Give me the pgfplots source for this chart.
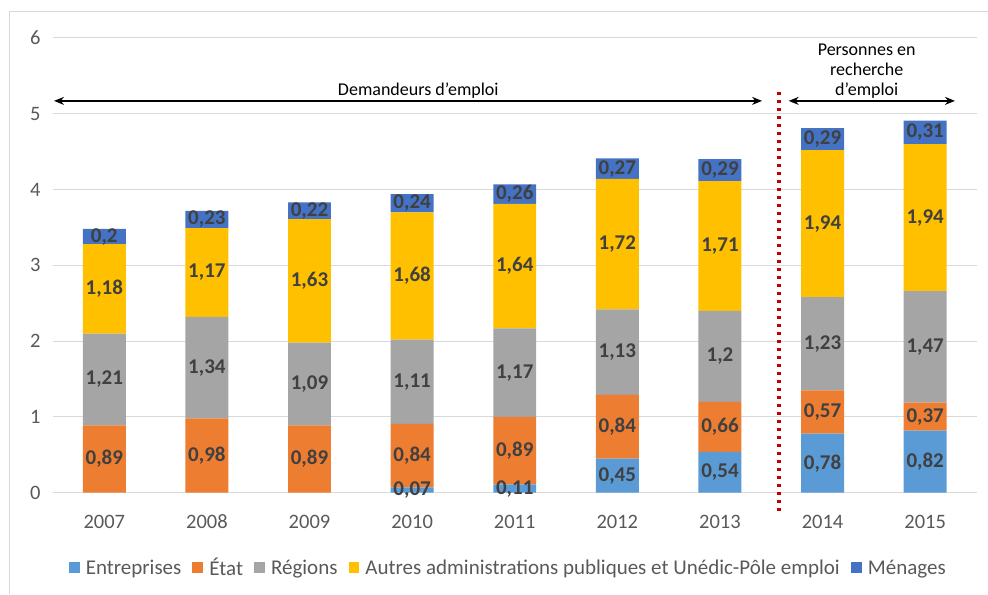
\documentclass[border=0pt]{standalone}
\usepackage{pgfplots}
\pgfplotsset{compat=1.18}
\usepackage{pgfplotstable}
\usepackage{fontspec}
\setmainfont{Carlito}
\usetikzlibrary{arrows.meta}

\definecolor{cEnt}{HTML}{5B9BD5}
\definecolor{cEtat}{HTML}{ED7D31}
\definecolor{cReg}{HTML}{A5A5A5}
\definecolor{cAutre}{HTML}{FFC000}
\definecolor{cMen}{HTML}{4472C4}
\definecolor{txt}{HTML}{595959}
\definecolor{lbl}{HTML}{404040}
\definecolor{gridc}{HTML}{D9D9D9}
\definecolor{sep}{HTML}{C00000}

% financement par annee (0 = 2007 ... 8 = 2015)
\pgfplotstableread{
x ent  etat reg  autres men
0 0    0.89 1.21 1.18   0.20
1 0    0.98 1.34 1.17   0.23
2 0    0.89 1.09 1.63   0.22
3 0.07 0.84 1.11 1.68   0.24
4 0.11 0.89 1.17 1.64   0.26
5 0.45 0.84 1.13 1.72   0.27
6 0.54 0.66 1.20 1.71   0.29
7 0.78 0.57 1.23 1.94   0.29
8 0.82 0.37 1.47 1.94   0.31
}\data

\begin{document}
\begin{tikzpicture}[x=1pt,y=1pt]
\path (0,0) rectangle (988,594);
\draw[gridc, line width=1pt] (10,0) -- (10,582) -- (988,582);
\begin{axis}[
  at={(53pt,101pt)}, anchor=south west,
  scale only axis, width=924pt, height=455pt,
  ybar stacked, bar width=43pt,
  xmin=-0.5, xmax=8.5, ymin=0, ymax=6,
  xtick={0,...,8},
  xticklabels={2007,2008,2009,2010,2011,2012,2013,2014,2015},
  ytick={0,...,6},
  axis line style={draw=none},
  ymajorgrids, grid style={gridc, line width=1pt},
  major tick length=0pt,
  /pgf/number format/assume math mode=true,
  /pgf/number format/fixed,
  /pgf/number format/precision=2,
  /pgf/number format/use comma,
  tick label style={font=\fontsize{20.5}{24}\selectfont, text=txt},
  xticklabel style={anchor=base, yshift=-36pt},
  yticklabel style={xshift=-9pt},
  clip=false,
  nodes near coords={\pgfmathfloatifflags{\pgfplotspointmeta}{0}{}{\pgfmathprintnumber[fixed,precision=2,use comma,assume math mode=true]{\pgfplotspointmeta}}},
  every node near coord/.append style={font=\fontsize{21}{24}\selectfont\bfseries, text=lbl,
    anchor=center},
  legend columns=-1,
  legend style={at={(0.493,-0.165)}, anchor=center, draw=none, fill=none,
    font=\fontsize{21}{24}\selectfont, text=txt,
    /tikz/every odd column/.append style={column sep=4pt},
    /tikz/every even column/.append style={column sep=9pt}},
  legend image code/.code={\fill[#1,/tikz/.cd] (0pt,-5.5pt) rectangle (11pt,5.5pt);},
]
\addplot[fill=cEnt, draw=none] table[x=x, y=ent] {\data};
\addplot[fill=cEtat, draw=none] table[x=x, y=etat] {\data};
\addplot[fill=cReg, draw=none] table[x=x, y=reg] {\data};
\addplot[fill=cAutre, draw=none] table[x=x, y=autres] {\data};
\addplot[fill=cMen, draw=none] table[x=x, y=men] {\data};
\legend{Entreprises, État, Régions, Autres administrations publiques et Unédic-Pôle emploi, Ménages}

% separation 2013 / 2014
\draw[sep, line width=3.5pt, dash pattern=on 3.5pt off 4.5pt] (axis cs:6.575,5.29) -- (axis cs:6.575,-0.25);
% fleches
\draw[{Stealth[length=10pt,width=8pt]}-{Stealth[length=10pt,width=8pt]}, line width=1.3pt]
  (axis cs:-0.49,5.17) -- (axis cs:6.41,5.17);
\draw[{Stealth[length=10pt,width=8pt]}-{Stealth[length=10pt,width=8pt]}, line width=1.3pt]
  (axis cs:6.67,5.17) -- (axis cs:8.29,5.17);
\node[anchor=base, inner sep=0pt, font=\fontsize{18}{22}\selectfont] at (axis cs:3.06,5.24) {Demandeurs d’emploi};
\node[anchor=base, inner sep=0pt, font=\fontsize{18}{22}\selectfont] at (axis cs:7.43,5.77) {Personnes en};
\node[anchor=base, inner sep=0pt, font=\fontsize{18}{22}\selectfont] at (axis cs:7.43,5.50) {recherche};
\node[anchor=base, inner sep=0pt, font=\fontsize{18}{22}\selectfont] at (axis cs:7.43,5.24) {d’emploi};
\end{axis}
\end{tikzpicture}
\end{document}
